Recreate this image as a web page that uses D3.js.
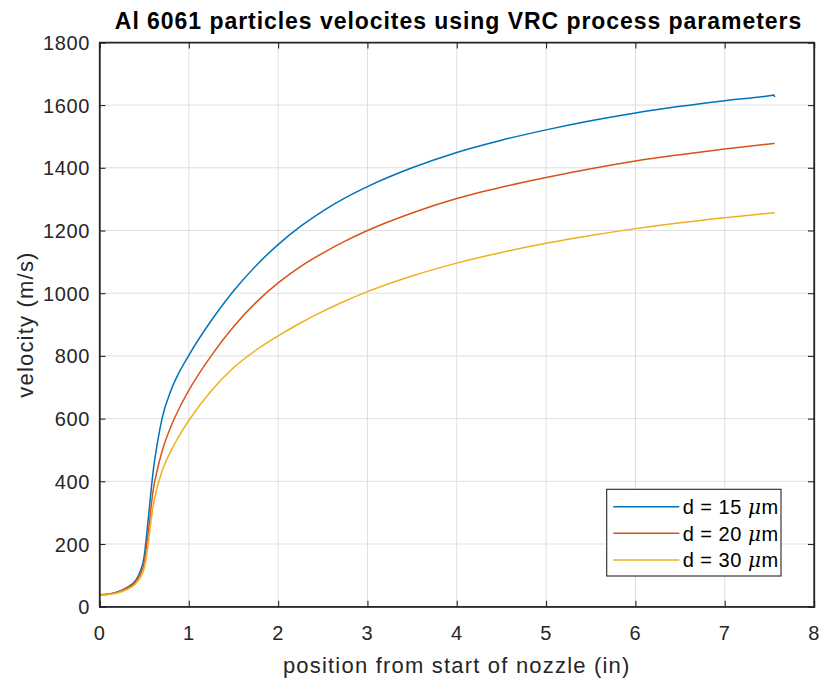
<!DOCTYPE html>
<html>
<head>
<meta charset="utf-8">
<script src="https://cdn.jsdelivr.net/npm/d3@7"></script>
<style>
  html, body { margin: 0; padding: 0; background: #fff; }
  svg { display: block; font-family: "Liberation Sans", Arial, Helvetica, sans-serif; }
</style>
</head>
<body>
<svg id="chart" width="820" height="681"></svg>
<script>
// ---- data ----
const positions = [0, 0.1, 0.2, 0.3, 0.4, 0.45, 0.5, 0.53, 0.56, 0.6, 0.65, 0.7, 0.8, 0.9, 1.0,
  1.25, 1.5, 1.75, 2.0, 2.25, 2.5, 2.75, 3, 3.5, 4, 4.5, 5, 5.5, 6, 6.5, 7, 7.5, 7.55, 7.56];
const vel15 = [38, 40, 47, 60, 82, 108, 160, 235, 320, 430, 525, 600, 690, 752, 802,
  912, 1007, 1087, 1155, 1213, 1262, 1304, 1340, 1400, 1449, 1488, 1521, 1550, 1575, 1596, 1614, 1630, 1632, 1626];
const vel20 = [38, 40, 46, 58, 78, 100, 140, 200, 272, 370, 440, 495, 575, 637, 690,
  800, 893, 970, 1033, 1085, 1128, 1166, 1200, 1256, 1302, 1338, 1369, 1397, 1422, 1442, 1460, 1476, 1477.5, 1477.5];
const vel30 = [37, 39, 44, 54, 72, 90, 122, 170, 235, 320, 385, 432, 497, 549, 594,
  688, 762, 818, 864, 905, 942, 975, 1005, 1055, 1096, 1130, 1159, 1184, 1206, 1225, 1241, 1255, 1256.5, 1256.5];
const seriesNames = ["d = 15 ", "d = 20 ", "d = 30 "];
const seriesColors = ["#0072BD", "#D95319", "#EDB120"];
const xTicks = [0, 1, 2, 3, 4, 5, 6, 7, 8];
const yTicks = [0, 200, 400, 600, 800, 1000, 1200, 1400, 1600, 1800];
const titleText = "Al 6061 particles velocites using VRC process parameters";
const xLabelText = "position from start of nozzle (in)";
const yLabelText = "velocity (m/s)";

// ---- layout ----
const L = 99.5, R = 814, T = 42.4, B = 606.7;
const svg = d3.select("#chart");
const x = d3.scaleLinear().domain([0, 8]).range([L, R]);
const y = d3.scaleLinear().domain([0, 1800]).range([B, T]);
const axisColor = "#262626";

// grid
const grid = svg.append("g");
grid.selectAll("line.gx").data(xTicks.slice(1, -1)).enter().append("line")
  .attr("x1", d => x(d)).attr("x2", d => x(d)).attr("y1", T).attr("y2", B)
  .attr("stroke", "#dfdfdf").attr("stroke-width", 1);
grid.selectAll("line.gy").data(yTicks.slice(1, -1)).enter().append("line")
  .attr("x1", L).attr("x2", R).attr("y1", d => y(d)).attr("y2", d => y(d))
  .attr("stroke", "#dfdfdf").attr("stroke-width", 1);

// lines
const seriesData = [vel15, vel20, vel30];
const line = d3.line().x(d => x(d[0])).y(d => y(d[1])).curve(d3.curveMonotoneX);
seriesData.forEach((vals, i) => {
  const pts = positions.map((p, j) => [p, vals[j]]);
  svg.append("path").datum(pts)
    .attr("d", line)
    .attr("fill", "none")
    .attr("stroke", seriesColors[i])
    .attr("stroke-width", 1.5)
    .attr("stroke-linejoin", "round");
});

// axes using d3 axis generators (ticks inward, labels custom)
const tickLen = 6;
const xAxisB = d3.axisBottom(x).tickValues(xTicks).tickSize(-tickLen).tickFormat("");
const xAxisT = d3.axisTop(x).tickValues(xTicks).tickSize(-tickLen).tickFormat("");
const yAxisL = d3.axisLeft(y).tickValues(yTicks).tickSize(-tickLen).tickFormat("");
const yAxisR = d3.axisRight(y).tickValues(yTicks).tickSize(-tickLen).tickFormat("");
function styleAxis(g) {
  g.selectAll("path").attr("stroke", axisColor).attr("stroke-width", 1.3);
  g.selectAll("line").attr("stroke", axisColor).attr("stroke-width", 1.1);
}
svg.append("g").attr("transform", `translate(0,${B})`).call(xAxisB).call(styleAxis);
svg.append("g").attr("transform", `translate(0,${T})`).call(xAxisT).call(styleAxis);
svg.append("g").attr("transform", `translate(${L},0)`).call(yAxisL).call(styleAxis);
svg.append("g").attr("transform", `translate(${R},0)`).call(yAxisR).call(styleAxis);
svg.append("rect").attr("x", L).attr("y", T).attr("width", R - L).attr("height", B - T)
  .attr("fill", "none").attr("stroke", axisColor).attr("stroke-width", 1.3);

// tick labels
svg.selectAll("text.xt").data(xTicks).enter().append("text")
  .attr("x", d => x(d)).attr("y", 640)
  .attr("text-anchor", "middle")
  .attr("font-size", 20).attr("letter-spacing", 0.6).attr("fill", axisColor)
  .text(d => d);
svg.selectAll("text.yt").data(yTicks).enter().append("text")
  .attr("x", 90).attr("y", d => y(d) + 7.5)
  .attr("text-anchor", "end")
  .attr("font-size", 20).attr("letter-spacing", 0.6).attr("fill", axisColor)
  .text(d => d);

// title and labels
svg.append("text").attr("x", 458.5).attr("y", 29.3).attr("text-anchor", "middle")
  .attr("font-size", 23).attr("font-weight", "bold").attr("letter-spacing", 0.95)
  .attr("fill", "#000").text(titleText);
svg.append("text").attr("x", (L + R) / 2).attr("y", 673).attr("text-anchor", "middle")
  .attr("font-size", 22).attr("letter-spacing", 1.2).attr("fill", axisColor).text(xLabelText);
svg.append("text").attr("transform", `translate(33,${(T + B) / 2}) rotate(-90)`)
  .attr("text-anchor", "middle")
  .attr("font-size", 22).attr("letter-spacing", 1.2).attr("fill", axisColor).text(yLabelText);

// legend
const lg = svg.append("g");
lg.append("rect").attr("x", 606.7).attr("y", 489.3).attr("width", 174.3).attr("height", 86.7)
  .attr("fill", "#fff").attr("stroke", axisColor).attr("stroke-width", 1.1);
const rowY = [506.7, 533.3, 560];
seriesNames.forEach((name, i) => {
  lg.append("line").attr("x1", 613.3).attr("x2", 679.3).attr("y1", rowY[i]).attr("y2", rowY[i])
    .attr("stroke", seriesColors[i]).attr("stroke-width", 1.5);
  const t = lg.append("text").attr("x", 682.7).attr("y", rowY[i] + 7.2)
    .attr("font-size", 20).attr("letter-spacing", 0.5).attr("fill", "#000");
  t.append("tspan").text(name);
  t.append("tspan").attr("font-style", "italic").attr("font-family", "'DejaVu Serif', serif").text("μ");
  t.append("tspan").text("m");
});
</script>
</body>
</html>
